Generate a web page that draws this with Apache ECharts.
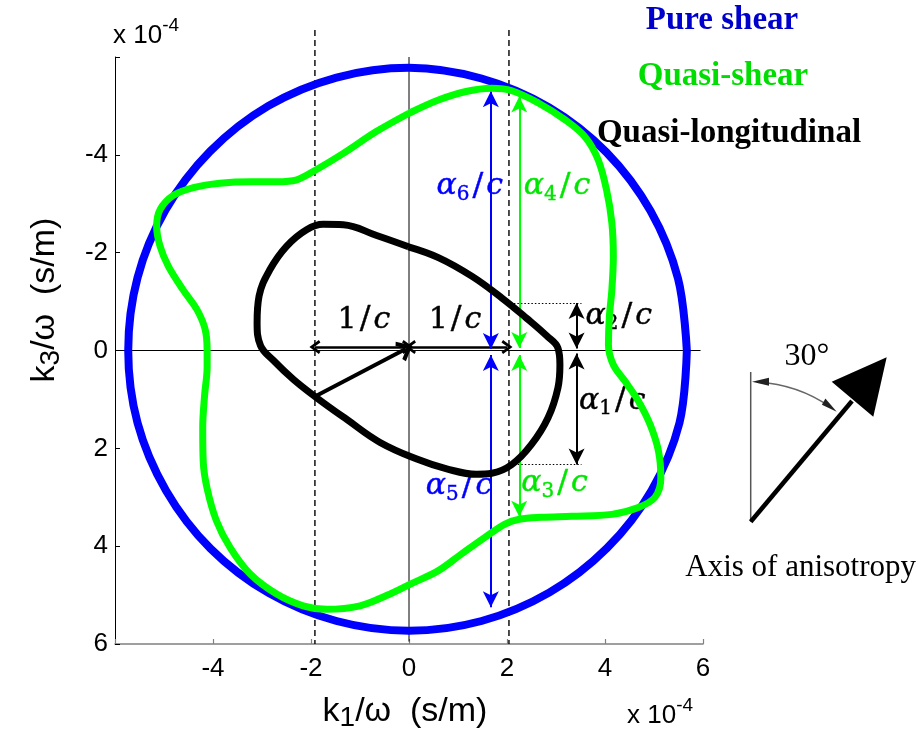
<!DOCTYPE html>
<html>
<head>
<meta charset="utf-8">
<script src="https://cdn.jsdelivr.net/npm/echarts@6/dist/echarts.min.js"></script>
<style>
  html, body { margin: 0; padding: 0; background: #ffffff; }
  #chart { width: 920px; height: 742px; }
</style>
</head>
<body>
<div id="chart"></div>
<script>
// Slowness curves k1/ω, k3/ω in units of 1e-4 s/m (k3 axis points down)
const axisTicks = [-6, -4, -2, 0, 2, 4, 6];

// Pure shear wave: circle
const pureShear = [
  [5.67, 0.00], [5.52, 1.48], [4.95, 2.86], [4.04, 4.04], [2.86, 4.95], [1.48, 5.53],
  [0.00, 5.73], [-1.48, 5.53], [-2.86, 4.96], [-4.05, 4.05], [-4.96, 2.86], [-5.54, 1.48],
  [-5.73, 0.00], [-5.54, -1.49], [-4.97, -2.87], [-4.06, -4.07], [-2.87, -5.00], [-1.48, -5.58],
  [0.00, -5.78], [1.48, -5.56], [2.86, -4.97], [4.03, -4.05], [4.93, -2.85], [5.49, -1.47],
  [5.67, 0.00]
];

// Quasi-shear wave
const quasiShear = [
  [0.00, -4.85], [-0.66, -4.48], [-1.34, -4.03], [-1.92, -3.68], [-2.29, -3.49], [-2.70, -3.45],
  [-3.20, -3.45], [-3.86, -3.42], [-4.40, -3.33], [-4.81, -3.17], [-5.08, -2.88], [-5.15, -2.54],
  [-5.08, -2.13], [-4.91, -1.72], [-4.61, -1.24], [-4.33, -0.84], [-4.16, -0.43], [-4.12, 0.00],
  [-4.12, 0.35], [-4.17, 0.90], [-4.21, 1.57], [-4.20, 2.26], [-4.12, 2.82], [-3.93, 3.48],
  [-3.65, 4.03], [-3.24, 4.57], [-2.70, 4.98], [-2.16, 5.22], [-1.68, 5.29], [-1.00, 5.22],
  [-0.46, 5.01], [0.02, 4.78], [0.60, 4.50], [1.07, 4.16], [1.55, 3.82], [1.96, 3.55],
  [2.25, 3.45], [2.70, 3.41], [3.32, 3.39], [4.14, 3.35], [4.68, 3.21], [5.02, 3.00],
  [5.14, 2.60], [5.09, 2.05], [4.92, 1.51], [4.68, 1.03], [4.41, 0.63], [4.17, 0.29],
  [4.07, -0.12], [4.09, -0.70], [4.14, -1.24], [4.17, -1.92], [4.14, -2.61], [4.03, -3.29],
  [3.86, -3.90], [3.59, -4.37], [3.18, -4.72], [2.64, -5.06], [2.10, -5.31], [1.69, -5.36],
  [1.14, -5.29], [0.60, -5.12], [0.00, -4.85]
];

// Quasi-longitudinal wave
const quasiLongitudinal = [
  [-0.01, -2.12], [-0.66, -2.35], [-1.34, -2.57], [-1.75, -2.58], [-2.09, -2.47], [-2.50, -2.13],
  [-2.84, -1.65], [-3.06, -1.11], [-3.10, -0.57], [-3.03, -0.10], [-2.77, 0.20], [-2.36, 0.59],
  [-1.88, 0.97], [-1.27, 1.41], [-0.59, 1.88], [0.16, 2.22], [0.77, 2.42], [1.38, 2.53],
  [1.69, 2.51], [2.10, 2.33], [2.50, 1.92], [2.84, 1.37], [3.04, 0.76], [3.08, 0.29],
  [3.04, -0.05], [2.81, -0.30], [2.40, -0.66], [1.90, -1.07], [1.28, -1.52], [0.60, -1.90],
  [-0.01, -2.12]
];

// Reference lines
const zeroLineH = [[-6, 0], [5.95, 0]];
const zeroLineV = [[0, -6], [0, 5.95]];
const dashedLeft = [[-1.92, -6.55], [-1.92, 6]];
const dashedRight = [[2.04, -6.55], [2.04, 6]];

// Annotation arrows (start, end)
const slownessArrows = [[[-1.92, -0.07], [-0.03, -0.07]], [[0.03, -0.07], [2.0, -0.07]]];
const radialArrow = [[[-1.9, 0.93], [-0.07, -0.03]]];
const blueArrows = [[[1.67, -5.30], [1.67, -0.03]], [[1.67, 0.09], [1.67, 5.25]]];
const greenArrows = [[[2.25, -5.19], [2.25, -0.05]], [[2.25, 0.09], [2.25, 3.40]]];
const blackArrows = [[[3.42, -0.97], [3.42, -0.04]], [[3.42, 0.06], [3.42, 2.33]]];
const dottedGuides = [[[2.14, -0.97], [3.52, -0.97]], [[2.22, 2.33], [3.52, 2.33]]];

// Annotation labels
const labelText = ['1/c', '1/c', 'α6/c', 'α4/c', 'α2/c', 'α1/c', 'α5/c', 'α3/c'];
const labelX = [-0.92, 0.94, 1.24, 3.02, 4.28, 4.15, 1.02, 2.97];
const labelY = [-0.62, -0.62, -3.35, -3.35, -0.70, 1.03, 2.78, 2.72];
const labelColor = ['#000000', '#000000', '#0000ff', '#00e600', '#000000', '#000000', '#0000ff', '#00e600'];

const chart = echarts.init(document.getElementById('chart'), null, { renderer: 'canvas' });

const CHEVRON = 'path://M5,0 L10,8.6 L8.3,10 L5,4.2 L1.7,10 L0,8.6 Z';

function lineSeries(data, color, width, extra) {
  return Object.assign({
    type: 'line', data: data, symbol: 'none', silent: true,
    lineStyle: { color: color, width: width }, z: 2
  }, extra || {});
}

function arrowSeries(segments, color, width, symbols, size, z, dash) {
  return {
    type: 'line', data: [], symbol: 'none', silent: true, z: z || 5,
    markLine: {
      silent: true, animation: false,
      symbol: symbols, symbolSize: size,
      label: { show: false },
      emphasis: { disabled: true },
      lineStyle: { color: color, width: width, type: dash || 'solid' },
      data: segments.map(s => [{ coord: s[0] }, { coord: s[1] }])
    }
  };
}

function richLabel(t) {
  const m = /^α(\d)\/c$/.exec(t);
  if (m) return '{a|α}{s|' + m[1] + '}{p|/}{a|c}';
  return '{u|1}{p|/}{a|c}';
}

// math-style glyphs, slightly emboldened with a same-colour outline
function labelRich(color) {
  const common = { color: color, fontFamily: 'DejaVu Serif', textBorderWidth: 0.4, textBorderColor: color };
  return {
    a: Object.assign({ fontStyle: 'italic', fontSize: 30, lineHeight: 36 }, common),
    u: Object.assign({ fontSize: 30, lineHeight: 36 }, common),
    p: Object.assign({ fontSize: 32, lineHeight: 36, padding: [0, 3, 0, 3] }, common),
    s: Object.assign({ fontSize: 20, lineHeight: 22, verticalAlign: 'bottom' }, common)
  };
}

const labelData = labelText.map((t, i) => ({
  value: [labelX[i], labelY[i]],
  label: {
    formatter: richLabel(t), color: labelColor[i],
    rich: labelRich(labelColor[i])
  }
}));

const axisNameRich = {
  n: { fontFamily: 'Liberation Sans', fontSize: 34, lineHeight: 40, fill: '#000' },
  s: { fontFamily: 'Liberation Sans', fontSize: 28, lineHeight: 28, verticalAlign: 'bottom', fill: '#000' }
};
const expRich = {
  n: { fontFamily: 'Liberation Sans', fontSize: 26, lineHeight: 40, fill: '#000' },
  e: { fontFamily: 'Liberation Sans', fontSize: 19, lineHeight: 14, verticalAlign: 'top', fill: '#000' }
};

// Axis of anisotropy sketch
const base = [750.7, 521.7];
const arcR = 139.6;
const a0 = -Math.PI / 2 + 0.05;
const a1 = -0.96;

const option = {
  animation: false,
  backgroundColor: '#ffffff',
  grid: { left: 115, right: 217, top: 57, bottom: 98, containLabel: false },
  xAxis: {
    type: 'value', min: axisTicks[0], max: axisTicks[axisTicks.length - 1], interval: 2,
    axisLine: { show: true, onZero: false, lineStyle: { color: '#808080', width: 1.5 } },
    axisTick: { show: true, inside: true, length: 5, lineStyle: { color: '#808080', width: 1.2 } },
    splitLine: { show: false },
    axisLabel: {
      margin: 12, color: '#000', fontFamily: 'Liberation Sans', fontSize: 26,
      formatter: v => (v === axisTicks[0] ? '' : String(v))
    }
  },
  yAxis: {
    type: 'value', inverse: true, min: axisTicks[0], max: axisTicks[axisTicks.length - 1], interval: 2,
    axisLine: { show: true, onZero: false, lineStyle: { color: '#000', width: 1 } },
    axisTick: { show: true, inside: true, length: 5, lineStyle: { color: '#000', width: 1 } },
    splitLine: { show: false },
    axisLabel: {
      margin: 7, color: '#000', fontFamily: 'Liberation Sans', fontSize: 26,
      formatter: v => (v === axisTicks[0] ? '' : String(v))
    }
  },
  series: [
    lineSeries(zeroLineH, '#000', 1),
    lineSeries(zeroLineV, '#000', 1),
    lineSeries(dashedLeft, '#000', 1.4, { clip: false, lineStyle: { color: '#000', width: 1.4, type: [6, 4] } }),
    lineSeries(dashedRight, '#000', 1.4, { clip: false, lineStyle: { color: '#000', width: 1.4, type: [6, 4] } }),
    {
      type: 'scatter', data: labelData, symbolSize: 0, silent: true, z: 3,
      itemStyle: { color: 'transparent', opacity: 1 },
      label: { show: true, position: 'inside' }
    },
    lineSeries(pureShear, '#0000ff', 8, { smooth: 0.35, z: 6 }),
    lineSeries(quasiShear, '#00ff00', 7, { smooth: 0.35, z: 7 }),
    lineSeries(quasiLongitudinal, '#000000', 7, { smooth: 0.4, z: 8 }),
    arrowSeries(dottedGuides, '#000', 1, ['none', 'none'], 0, 4, [1.5, 2]),
    arrowSeries(slownessArrows, '#000', 2.5, [CHEVRON, CHEVRON], [14, 11], 9),
    arrowSeries(radialArrow, '#000', 4, ['none', CHEVRON], [22, 15], 9),
    arrowSeries(blueArrows, '#0000ff', 2, ['arrow', 'arrow'], [12, 16], 9),
    arrowSeries(greenArrows, '#00ff00', 2, ['arrow', 'arrow'], [12, 16], 9),
    arrowSeries(blackArrows, '#000', 2, ['arrow', 'arrow'], [12, 16], 9)
  ],
  graphic: [
    // series names
    { type: 'text', x: 722, y: 20, style: { text: 'Pure shear', fill: '#0000cc', font: 'bold 33px "Liberation Serif"', align: 'center', verticalAlign: 'middle' } },
    { type: 'text', x: 723, y: 76, style: { text: 'Quasi-shear', fill: '#00dd00', font: 'bold 33px "Liberation Serif"', align: 'center', verticalAlign: 'middle' } },
    { type: 'text', x: 729, y: 133, style: { text: 'Quasi-longitudinal', fill: '#000000', font: 'bold 33px "Liberation Serif"', align: 'center', verticalAlign: 'middle' } },
    // axis titles
    { type: 'text', x: 405, y: 712, style: { text: '{n|k}{s|1}{n|/ω  (s/m)}', rich: axisNameRich, align: 'center', verticalAlign: 'middle' } },
    { type: 'text', x: 45, y: 300, rotation: Math.PI / 2, style: { text: '{n|k}{s|3}{n|/ω  (s/m)}', rich: axisNameRich, align: 'center', verticalAlign: 'middle' } },
    // exponent notes
    { type: 'text', x: 113, y: 36, style: { text: '{n|x 10}{e|-4}', rich: expRich, align: 'left', verticalAlign: 'middle' } },
    { type: 'text', x: 627, y: 716, style: { text: '{n|x 10}{e|-4}', rich: expRich, align: 'left', verticalAlign: 'middle' } },
    // anisotropy sketch
    { type: 'line', shape: { x1: base[0], y1: base[1], x2: base[0], y2: 372 }, style: { stroke: '#555', lineWidth: 1.5 } },
    { type: 'line', shape: { x1: base[0], y1: base[1], x2: 852, y2: 401 }, style: { stroke: '#000', lineWidth: 4.5 } },
    { type: 'polygon', shape: { points: [[886.7, 357.3], [831.7, 381.7], [873.3, 416.7]] }, style: { fill: '#000' } },
    { type: 'arc', shape: { cx: base[0], cy: base[1], r: arcR, startAngle: a0, endAngle: a1, clockwise: true }, style: { stroke: '#666', lineWidth: 1.5, fill: null } },
    { type: 'polygon', shape: { points: [[752, 381.7], [769, 377.8], [769, 385.8]] }, style: { fill: '#222' } },
    { type: 'polygon', shape: { points: [[836.7, 411.7], [821.9, 404.8], [825.4, 398.4]] }, style: { fill: '#222' } },
    { type: 'text', x: 807, y: 357, style: { text: '30°', fill: '#000', font: '32px "Liberation Serif"', align: 'center', verticalAlign: 'middle' } },
    { type: 'text', x: 916, y: 568, style: { text: 'Axis of anisotropy', fill: '#000', font: '31px "Liberation Serif"', align: 'right', verticalAlign: 'middle' } }
  ]
};

chart.setOption(option);
</script>
</body>
</html>
